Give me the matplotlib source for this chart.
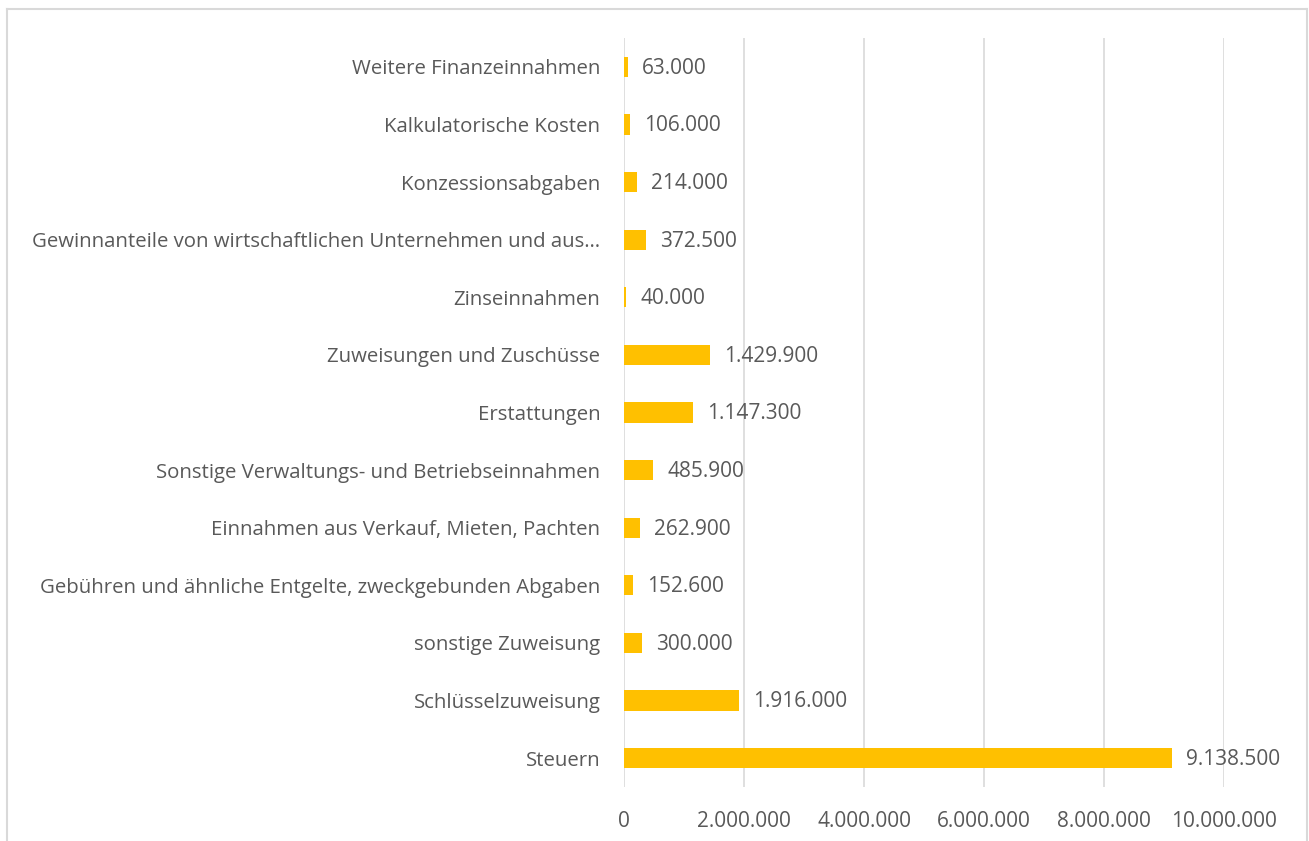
import matplotlib
matplotlib.use('Agg')
import matplotlib.pyplot as plt
from matplotlib.lines import Line2D
from matplotlib.ticker import FuncFormatter

# Daten (von unten nach oben)
kategorien = [
    'Steuern',
    'Schlüsselzuweisung',
    'sonstige Zuweisung',
    'Gebühren und ähnliche Entgelte, zweckgebunden Abgaben',
    'Einnahmen aus Verkauf, Mieten, Pachten',
    'Sonstige Verwaltungs- und Betriebseinnahmen',
    'Erstattungen',
    'Zuweisungen und Zuschüsse',
    'Zinseinnahmen',
    'Gewinnanteile von wirtschaftlichen Unternehmen und aus…',
    'Konzessionsabgaben',
    'Kalkulatorische Kosten',
    'Weitere Finanzeinnahmen',
]
werte = [9138500, 1916000, 300000, 152600, 262900, 485900, 1147300,
         1429900, 40000, 372500, 214000, 106000, 63000]
x_ticks = [0, 2000000, 4000000, 6000000, 8000000, 10000000]


def de_format(v):
    return f'{int(v):,}'.replace(',', '.')


plt.rcParams['font.family'] = ['Open Sans', 'DejaVu Sans']
text_color = '#595959'
grid_color = '#D9D9D9'

fig = plt.figure(figsize=(13.09, 8.41), dpi=100)
ax = fig.add_axes([624 / 1309, 1 - 787 / 841, 600 / 1309, 749 / 841])

y = range(len(kategorien))
ax.barh(y, werte, height=0.35, color='#FFC000', zorder=3)

for i, v in enumerate(werte):
    ax.annotate(de_format(v), xy=(v, i), xytext=(10, -1), textcoords='offset points',
                va='center', ha='left', fontsize=15, color=text_color)

ax.set_xlim(0, 10000000)
ax.set_ylim(-0.5, len(kategorien) - 0.5)
ax.set_xticks(x_ticks)
ax.xaxis.set_major_formatter(FuncFormatter(lambda v, p: de_format(v)))
ax.set_yticks(list(y))
ax.set_yticklabels(kategorien, fontsize=14.7)

ax.tick_params(axis='both', length=0, labelcolor=text_color)
ax.tick_params(axis='x', labelsize=15, pad=17)
ax.tick_params(axis='y', pad=17)
ax.grid(axis='x', color=grid_color, linewidth=1.2, zorder=0)
for s in ax.spines.values():
    s.set_visible(False)

# Rahmen des Diagrammbereichs (links, oben, rechts)
fw, fh = 1309, 841
rahmen = [((7, 7), (9, 841)), ((7, 1307), (9, 9)), ((1307, 1307), (9, 841))]
for xs, ys in rahmen:
    fig.add_artist(Line2D([x / fw for x in xs], [1 - yy / fh for yy in ys],
                          color=grid_color, linewidth=1.5, transform=fig.transFigure))

fig.savefig('out.png', dpi=100)
